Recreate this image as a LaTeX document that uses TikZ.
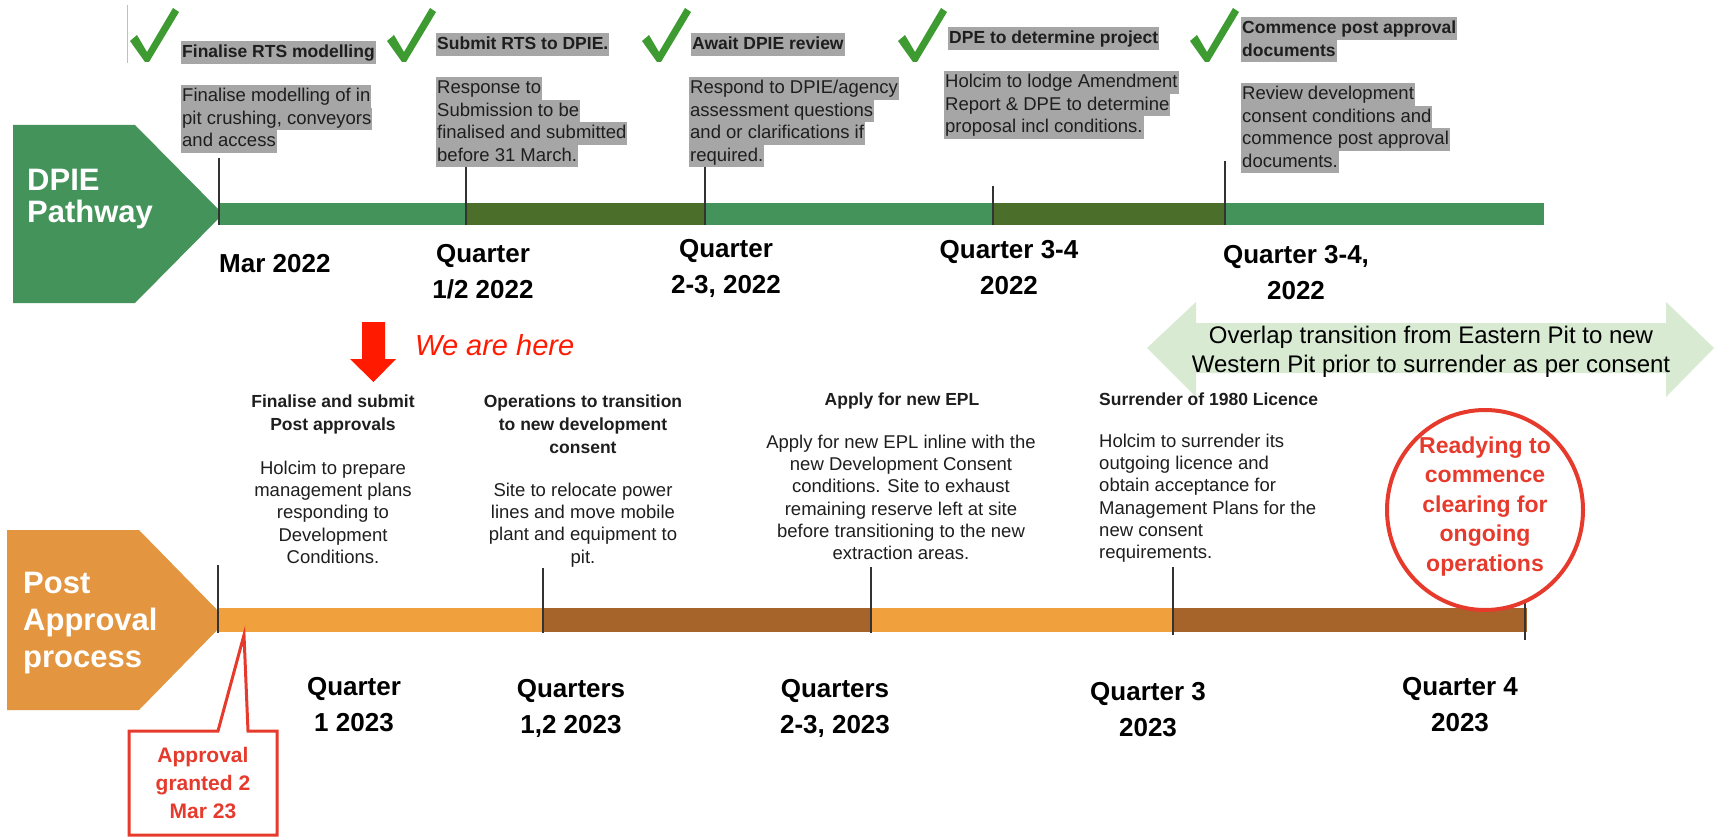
\documentclass[tikz,border=0pt]{standalone}
\usepackage{fontspec}
\setmainfont{Liberation Sans}
\definecolor{pgreen}{HTML}{43935A}
\definecolor{dgreen}{HTML}{4B6F2B}
\definecolor{porange}{HTML}{E3953F}
\definecolor{lorange}{HTML}{F0A03C}
\definecolor{barbrown}{HTML}{A6642A}
\definecolor{hlgray}{HTML}{A6A6A6}
\definecolor{ckgreen}{HTML}{3E9B32}
\definecolor{hered}{HTML}{FF1A00}
\definecolor{cred}{HTML}{E63A2D}
\definecolor{palegreen}{HTML}{D9EAD3}
\definecolor{txt}{HTML}{1E1E1E}
\definecolor{tickc}{HTML}{333333}
\newcommand\St[2]{\rule[-#2]{0pt}{\dimexpr#1+#2\relax}}
\newcommand\hl[1]{{\setlength{\fboxsep}{0pt}\colorbox{hlgray}{\St{16.5pt}{6pt}\hspace{1pt}#1\hspace{1pt}}}}
\newcommand\DL{\St{27pt}{9pt}}
\newcommand\HL{\St{16.5pt}{6.5pt}}
\newcommand\DS{\St{16.5pt}{5.8pt}}
\newcommand\PL{\St{24pt}{8pt}}
\newcommand\QL{\St{28pt}{9pt}}
\newcommand\RL{\St{22pt}{7.5pt}}
\newcommand\gcheck[2]{\fill[ckgreen] (#1,#2) ++(0,33) -- ++(7,-6) -- ++(10,17) -- ++(26,-44) -- ++(6,4) -- ++(-30,50) -- ++(-4,0) -- cycle;}
\tikzset{
  hltext/.style={inner sep=0pt, align=left, anchor=north west, text=txt, font=\fontsize{18.5}{22.5}\selectfont},
  hlhead/.style={inner sep=0pt, align=left, anchor=north west, text=txt, font=\bfseries\fontsize{17.5}{22.5}\selectfont},
  datelbl/.style={inner sep=0pt, anchor=north, align=center, text=black, font=\bfseries\fontsize{26}{36}\selectfont},
  lowhead/.style={inner sep=0pt, anchor=north, align=center, text=txt, font=\bfseries\fontsize{17.5}{23}\selectfont},
  lowdesc/.style={inner sep=0pt, anchor=north, align=center, text=txt, font=\fontsize{18.5}{22.3}\selectfont},
  pentxt/.style={inner sep=0pt, anchor=north west, align=left, text=white},
  tickline/.style={draw=tickc, line width=1.5pt},
}
\begin{document}
\begin{tikzpicture}[x=1pt, y=-1pt]
\useasboundingbox (0,0) rectangle (1715,837);
\fill[white] (0,0) rectangle (1715,837);

% thin gray line at top-left
\draw[gray!50, line width=1pt] (127,5) -- (127,63);

% ---------------- DPIE pathway ----------------
\fill[pgreen] (13,125) -- (135,125) -- (223,214) -- (135,303) -- (13,303) -- cycle;
\node[pentxt, font=\bfseries\fontsize{31}{32}\selectfont] (dpie) at (27,166) {\PL DPIE\\\PL Pathway};

\fill[pgreen] (219,203) rectangle (466,225);
\fill[dgreen] (466,203) rectangle (705,225);
\fill[pgreen] (705,203) rectangle (993,225);
\fill[dgreen] (993,203) rectangle (1225,225);
\fill[pgreen] (1225,203) rectangle (1544,225);

\draw[tickline] (219,158) -- (219,225);
\draw[tickline] (466,166) -- (466,225);
\draw[tickline] (705,165) -- (705,225);
\draw[tickline] (993,186) -- (993,225);
\draw[tickline] (1225,161) -- (1225,225);

\gcheck{130}{8}
\gcheck{387}{8}
\gcheck{642}{8}
\gcheck{898}{8}
\gcheck{1190}{8}

\node[hlhead] (h1) at (181,41) {\hl{Finalise RTS modelling}};
\node[hlhead] (h2) at (436,33) {\hl{Submit RTS to DPIE.}};
\node[hlhead] (h3) at (691,33) {\hl{Await DPIE review}};
\node[hlhead] (h4) at (948,27) {\hl{DPE to determine project}};
\node[hlhead] (h5) at (1241,17) {\hl{Commence post approval}\\\hl{documents}};

\node[hltext] (d1) at (181,85) {\hl{Finalise modelling of in}\\\hl{pit crushing, conveyors}\\\hl{and access}};
\node[hltext] (d2) at (436,77) {\hl{Response to}\\\hl{Submission to be}\\\hl{finalised and submitted}\\\hl{before 31 March.}};
\node[hltext] (d3) at (689,77) {\hl{Respond to DPIE/agency}\\\hl{assessment questions}\\\hl{and or clarifications if}\\\hl{required.}};
\node[hltext] (d4) at (944,71) {\hl{Holcim to lodge Amendment}\\\hl{Report \& DPE to determine}\\\hl{proposal incl conditions.}};
\node[hltext] (d5) at (1241,83) {\hl{Review development}\\\hl{consent conditions and}\\\hl{commence post approval}\\\hl{documents.}};

\node[datelbl, anchor=north west] (t1) at (219,245) {\DL Mar 2022};
\node[datelbl] (t2) at (483,235) {\DL Quarter\\\DL 1/2 2022};
\node[datelbl] (t3) at (726,230) {\DL Quarter\\\DL 2-3, 2022};
\node[datelbl] (t4) at (1009,231) {\DL Quarter 3-4\\\DL 2022};
\node[datelbl] (t5) at (1296,236) {\DL Quarter 3-4,\\\DL 2022};

% ---------------- overlap arrow ----------------
\fill[palegreen] (1147,348) -- (1196,302) -- (1196,323) -- (1666,323) -- (1666,302) -- (1714,348) -- (1666,397) -- (1666,373) -- (1196,373) -- (1196,397) -- cycle;
\node[inner sep=0pt, anchor=north, align=center, text=black, font=\fontsize{24}{29}\selectfont] (overlap) at (1431,322)
  {\St{21pt}{8pt}Overlap transition from Eastern Pit to new\\\St{21pt}{8pt}Western Pit prior to surrender as per consent};

% ---------------- we are here ----------------
\fill[hered] (362,322) -- (385,322) -- (385,359) -- (396,359) -- (373.5,382) -- (350,359) -- (362,359) -- cycle;
\node[inner sep=0pt, anchor=base west, text=hered, font=\itshape\fontsize{29}{34}\selectfont] (here) at (415,355) {We are here};

% ---------------- Post approval process ----------------
\fill[porange] (7,530) -- (139,530) -- (227,620) -- (139,710) -- (7,710) -- cycle;
\node[pentxt, font=\bfseries\fontsize{31}{37}\selectfont] (post) at (23,565) {\QL Post\\\QL Approval\\\QL process};

\fill[lorange] (218,608) rectangle (543,632);
\fill[barbrown] (543,608) rectangle (871,632);
\fill[lorange] (871,608) rectangle (1173,632);
\fill[barbrown] (1173,608) rectangle (1527,632);

\draw[tickline] (218,565) -- (218,633);
\draw[tickline] (543,568) -- (543,633);
\draw[tickline] (871,567) -- (871,633);
\draw[tickline] (1173,567) -- (1173,635);
\draw[tickline] (1525,601) -- (1525,640);

\node[lowhead] (p1) at (333,390.5) {\HL Finalise and submit\\\HL Post approvals};
\node[lowhead] (p2) at (583,390.5) {\HL Operations to transition\\\HL to new development\\\HL consent};
\node[lowhead] (p3) at (902,388.5) {\HL Apply for new EPL};
\node[lowhead, anchor=north west] (p4) at (1099,388.5) {\HL Surrender of 1980 Licence};

\node[lowdesc] (q1) at (333,457.5) {\DS Holcim to prepare\\\DS management plans\\\DS responding to\\\DS Development\\\DS Conditions.};
\node[lowdesc] (q2) at (583,479.5) {\DS Site to relocate power\\\DS lines and move mobile\\\DS plant and equipment to\\\DS pit.};
\node[lowdesc] (q3) at (901,431.5) {\DS Apply for new EPL inline with the\\\DS new Development Consent\\\DS conditions. Site to exhaust\\\DS remaining reserve left at site\\\DS before transitioning to the new\\\DS extraction areas.};
\node[lowdesc, anchor=north west, align=left] (q4) at (1099,430.5) {\DS Holcim to surrender its\\\DS outgoing licence and\\\DS obtain acceptance for\\\DS Management Plans for the\\\DS new consent\\\DS requirements.};

\node[datelbl] (u1) at (354,668) {\DL Quarter\\\DL 1 2023};
\node[datelbl] (u2) at (571,670) {\DL Quarters\\\DL 1,2 2023};
\node[datelbl] (u3) at (835,670) {\DL Quarters\\\DL 2-3, 2023};
\node[datelbl] (u4) at (1148,673) {\DL Quarter 3\\\DL 2023};
\node[datelbl] (u5) at (1460,668) {\DL Quarter 4\\\DL 2023};

% ---------------- circle ----------------
\draw[cred, line width=4pt] (1485,510) ellipse [x radius=98pt, y radius=100pt];
\node[inner sep=0pt, anchor=north, align=center, text=cred, font=\bfseries\fontsize{23}{29.5}\selectfont] (ready) at (1485,431)
  {\RL Readying to\\\RL commence\\\RL clearing for\\\RL ongoing\\\RL operations};

% ---------------- callout ----------------
\draw[cred, line width=3pt, fill=white, line join=miter] (129,731) -- (218,731) -- (244,635) -- (248,731) -- (277,731) -- (277,835) -- (129,835) -- cycle;
\node[inner sep=0pt, anchor=north, align=center, text=cred, font=\bfseries\fontsize{21}{28}\selectfont] (approved) at (203,743)
  {\St{19pt}{9pt}Approval\\\St{19pt}{9pt}granted 2\\\St{19pt}{9pt}Mar 23};
\end{tikzpicture}
\end{document}
